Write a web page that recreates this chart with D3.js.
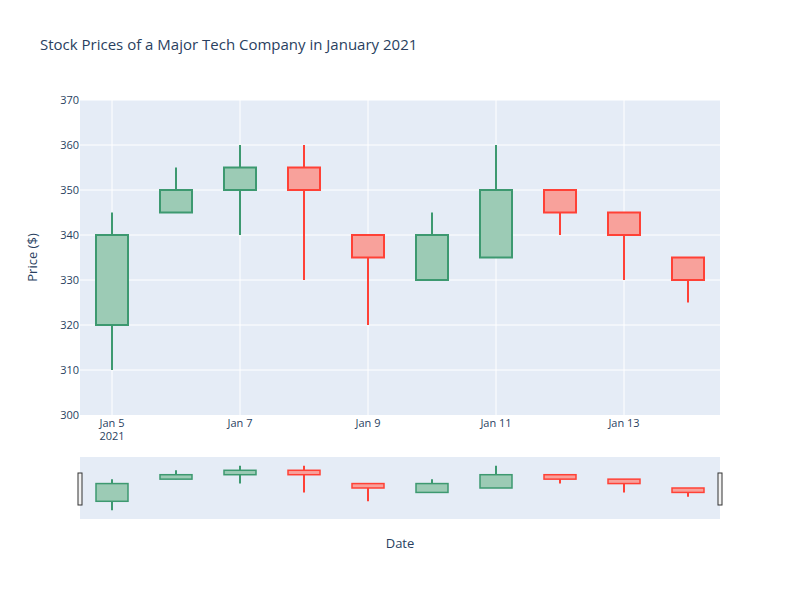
<!DOCTYPE html>
<meta charset="utf-8">
<head>
<script src="https://cdn.jsdelivr.net/npm/d3@7"></script>
<style>
  body { margin: 0; background: #fff; font-family: "Open Sans", "DejaVu Sans", sans-serif; }
  text { fill: #2a3f5f; }
</style>
</head>
<body>
<script>
var dates = ["2021-01-05","2021-01-06","2021-01-07","2021-01-08","2021-01-09","2021-01-10","2021-01-11","2021-01-12","2021-01-13","2021-01-14"];
var opens  = [320, 345, 350, 355, 340, 330, 335, 350, 345, 335];
var highs  = [345, 355, 360, 360, 340, 345, 360, 350, 345, 335];
var lows   = [310, 345, 340, 330, 320, 330, 335, 340, 330, 325];
var closes = [340, 350, 355, 350, 335, 340, 350, 345, 340, 330];
var yTicks = [300, 310, 320, 330, 340, 350, 360, 370];
var xTicks = ["2021-01-05","2021-01-07","2021-01-09","2021-01-11","2021-01-13"];

var parse = d3.timeParse("%Y-%m-%d");
var data = dates.map((d, i) => ({date: parse(d), o: opens[i], h: highs[i], l: lows[i], c: closes[i]}));

var W = 800, H = 600;
var pLeft = 80, pRight = 720, pTop = 100, pBottom = 415;
var svg = d3.select("body").append("svg").attr("width", W).attr("height", H);

var halfDay = 12 * 3600 * 1000;
var x = d3.scaleTime()
  .domain([new Date(data[0].date - halfDay), new Date(+data[9].date + halfDay)])
  .range([pLeft, pRight]);
var y = d3.scaleLinear().domain([300, 370]).range([pBottom, pTop]);

svg.append("rect").attr("x", pLeft).attr("y", pTop).attr("width", pRight - pLeft).attr("height", pBottom - pTop).attr("fill", "#E5ECF6");

// grid
svg.selectAll(".hg").data(yTicks.slice(1)).join("line")
  .attr("x1", pLeft).attr("x2", pRight).attr("y1", d => y(d)).attr("y2", d => y(d))
  .attr("stroke", "#fff").attr("stroke-width", 1);
svg.selectAll(".vg").data(xTicks).join("line")
  .attr("x1", d => x(parse(d))).attr("x2", d => x(parse(d))).attr("y1", pTop).attr("y2", pBottom)
  .attr("stroke", "#fff").attr("stroke-width", 1);

// y labels
svg.selectAll(".yl").data(yTicks).join("text")
  .attr("x", pLeft - 1).attr("y", d => y(d) + 4).attr("text-anchor", "end")
  .attr("font-size", 11).text(d => d);
// x labels
var fmt = d3.timeFormat("%b %-d");
svg.selectAll(".xl").data(xTicks).join("text")
  .attr("x", d => x(parse(d))).attr("y", pBottom + 12).attr("text-anchor", "middle")
  .attr("font-size", 11).text(d => fmt(parse(d)));
svg.append("text").attr("x", x(parse(xTicks[0]))).attr("y", pBottom + 25).attr("text-anchor", "middle")
  .attr("font-size", 11).text("2021");

svg.append("text").attr("transform", "translate(37," + ((pTop + pBottom) / 2) + ") rotate(-90)")
  .attr("text-anchor", "middle").attr("font-size", 13).text("Price ($)");
svg.append("text").attr("x", 400).attr("y", 548).attr("text-anchor", "middle").attr("font-size", 13).text("Date");
svg.append("text").attr("x", 40).attr("y", 50).attr("font-size", 15).text("Stock Prices of a Major Tech Company in January 2021");

var bw = 32;
function drawCandles(g, ys, w) {
  var c = g.selectAll("g").data(data).join("g");
  c.append("line")
    .attr("x1", d => x(d.date)).attr("x2", d => x(d.date))
    .attr("y1", d => ys(d.h)).attr("y2", d => ys(d.l))
    .attr("stroke", d => d.c >= d.o ? "#3D9970" : "#FF4136").attr("stroke-width", 2);
  c.append("rect")
    .attr("x", d => x(d.date) - bw / 2).attr("width", bw)
    .attr("y", d => ys(Math.max(d.o, d.c)))
    .attr("height", d => Math.max(0.5, ys(Math.min(d.o, d.c)) - ys(Math.max(d.o, d.c))))
    .attr("fill", d => d.c >= d.o ? "#9ccbb5" : "#f8a19b")
    .attr("stroke", d => d.c >= d.o ? "#3D9970" : "#FF4136").attr("stroke-width", w);
}
drawCandles(svg.append("g"), y, 2);

// range slider
var sTop = 457, sBot = 519;
svg.append("rect").attr("x", pLeft).attr("y", sTop).attr("width", pRight - pLeft).attr("height", sBot - sTop).attr("fill", "#E5ECF6");
var ys2 = d3.scaleLinear().domain([300, 370]).range([sBot, sTop]);
drawCandles(svg.append("g"), ys2, 1.5);
[pLeft - 2, pRight - 2].forEach(hx => {
  svg.append("rect").attr("x", hx).attr("y", 473).attr("width", 4).attr("height", 32)
    .attr("fill", "#f2f2f2").attr("stroke", "#333").attr("stroke-width", 1);
});
</script>
</body>
</html>
